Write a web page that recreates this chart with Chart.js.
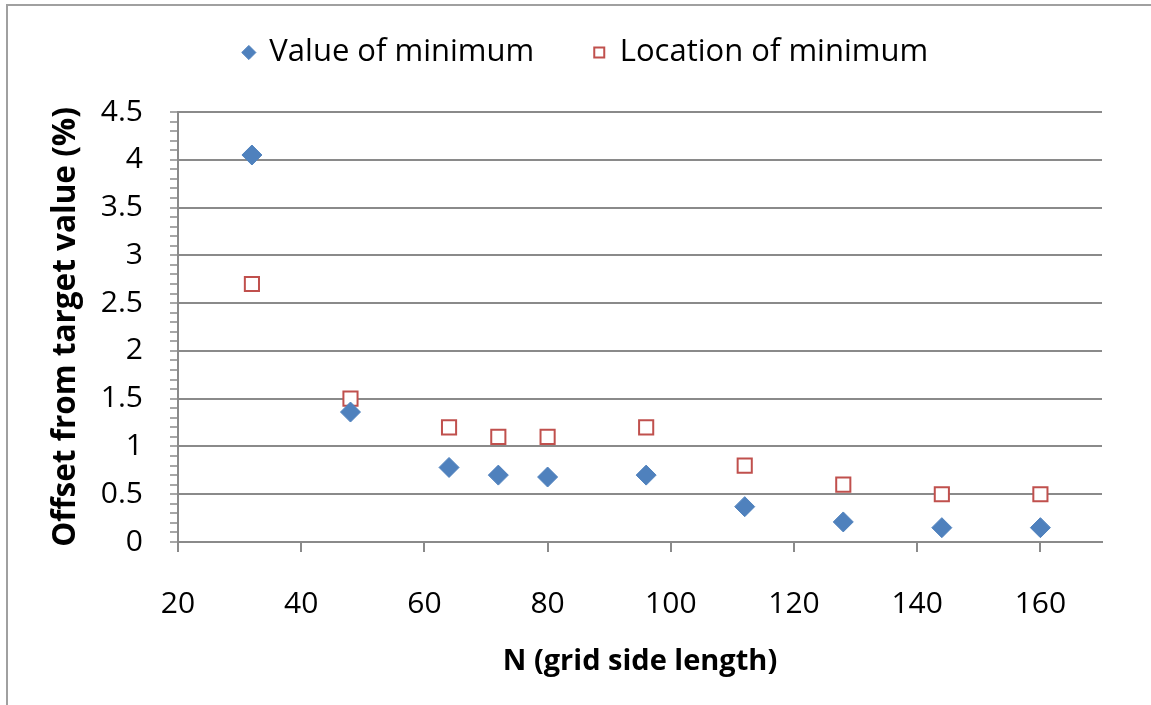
<!DOCTYPE html>
<html>
<head>
<meta charset="utf-8">
<script src="https://cdn.jsdelivr.net/npm/chart.js@4"></script>
<style>
  html, body { margin: 0; padding: 0; background: #fff; }
  #frame { position: absolute; left: 6px; top: 4px; width: 1300px; height: 900px;
           border-left: 2px solid #a0a0a0; border-top: 2px solid #a0a0a0; }
  #wrap { position: absolute; left: 0; top: 0; width: 1151px; height: 705px; }
</style>
</head>
<body>
<div id="frame"></div>
<div id="wrap"><canvas id="chart" width="1151" height="705"></canvas></div>
<script>
// grid side length N
const gridSizes = [32, 48, 64, 72, 80, 96, 112, 128, 144, 160];
// offset from target value (%)
const valueOfMinimum = [4.05, 1.36, 0.78, 0.70, 0.68, 0.70, 0.37, 0.21, 0.15, 0.15];
const locationOfMinimum = [2.7, 1.5, 1.2, 1.1, 1.1, 1.2, 0.8, 0.6, 0.5, 0.5];
const xTicks = [20, 40, 60, 80, 100, 120, 140, 160];
const yMajorStep = 0.5;
const yMinorStep = 0.1;

const FONT = "'Open Sans', 'Noto Sans', sans-serif";
const GRID = '#8a8a8a';

const toPoints = (xs, ys) => xs.map((x, i) => ({ x: x, y: ys[i] }));
const isMajor = v => Math.abs(v / yMajorStep - Math.round(v / yMajorStep)) < 1e-6;

// nudge the legend to where the original sits (above the plot, a bit right of centre)
const legendPlace = {
    id: 'legendPlace',
    afterLayout(chart) {
        const lg = chart.legend;
        const dy = -23 - lg.top;
        lg.top += dy; lg.bottom += dy;
        lg.left += 35; lg.right += 35;
    }
};

new Chart(document.getElementById('chart'), {
    type: 'scatter',
    data: {
        datasets: [
            {
                label: 'Value of minimum',
                data: toPoints(gridSizes, valueOfMinimum),
                pointStyle: 'rectRot',
                pointRadius: 10,
                backgroundColor: '#4f81bd',
                borderColor: '#4f81bd',
                borderWidth: 1
            },
            {
                label: 'Location of minimum',
                data: toPoints(gridSizes, locationOfMinimum),
                pointStyle: 'rect',
                pointRadius: 10,
                backgroundColor: '#ffffff',
                borderColor: '#c0504d',
                borderWidth: 2
            }
        ]
    },
    plugins: [legendPlace],
    options: {
        responsive: false,
        animation: false,
        layout: { padding: { left: 0, right: 49, top: 0, bottom: 0 } },
        plugins: {
            tooltip: { enabled: false },
            legend: {
                position: 'top',
                labels: {
                    usePointStyle: true,
                    boxHeight: 10,
                    boxWidth: 10,
                    padding: 60,
                    color: '#000',
                    font: { family: FONT, size: 31 }
                }
            }
        },
        scales: {
            x: {
                type: 'linear',
                min: 20,
                max: 170,
                afterBuildTicks: s => { s.ticks = xTicks.map(v => ({ value: v })); },
                afterFit: s => { s.height = 705 - 542; },
                ticks: { color: '#000', padding: 34, font: { family: FONT, size: 30 } },
                grid: { drawOnChartArea: false, color: GRID, lineWidth: 2, tickLength: 10 },
                border: { color: GRID, width: 2 },
                title: {
                    display: true,
                    text: 'N (grid side length)',
                    color: '#000',
                    padding: { top: 0, bottom: 26 },
                    font: { family: FONT, size: 29, weight: 'bold' }
                }
            },
            y: {
                type: 'linear',
                min: 0,
                max: 4.5,
                afterBuildTicks: s => {
                    const t = [];
                    for (let i = 0; i <= 45; i++) t.push({ value: +(i * yMinorStep).toFixed(1) });
                    s.ticks = t;
                },
                afterFit: s => { s.width = 178; s.paddingTop = 112; },
                ticks: {
                    autoSkip: false,
                    color: '#000',
                    padding: 27,
                    font: { family: FONT, size: 30 },
                    callback: v => isMajor(v) ? String(v) : ''
                },
                grid: {
                    color: ctx => isMajor(ctx.tick.value) && ctx.tick.value > 0 ? GRID : 'rgba(0,0,0,0)',
                    tickColor: GRID,
                    lineWidth: 2,
                    tickWidth: 1.5,
                    tickLength: 8
                },
                border: { color: GRID, width: 2 },
                title: {
                    display: true,
                    text: 'Offset from target value (%)',
                    color: '#000',
                    padding: { top: 47, bottom: 0 },
                    font: { family: FONT, size: 31.5, weight: 'bold' }
                }
            }
        }
    }
});
</script>
</body>
</html>
